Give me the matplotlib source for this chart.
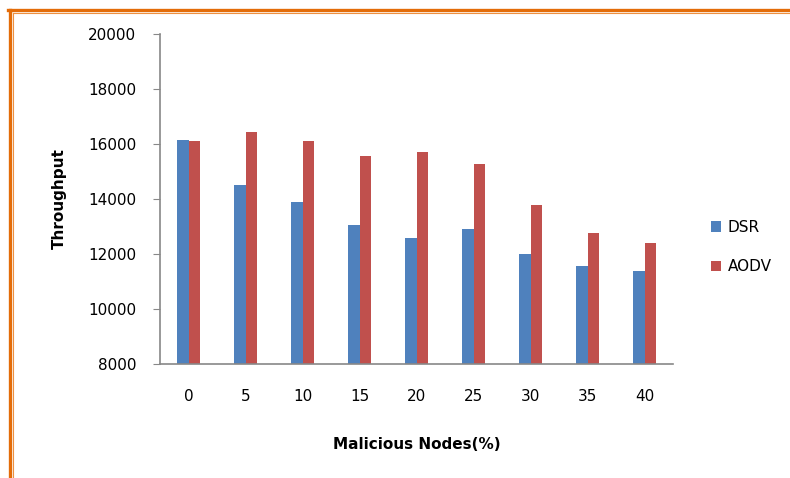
import matplotlib
matplotlib.use("Agg")
import matplotlib.pyplot as plt
import numpy as np
from matplotlib.lines import Line2D

# data
nodes = ['0', '5', '10', '15', '20', '25', '30', '35', '40']
dsr = [16150, 14500, 13900, 13070, 12600, 12900, 12000, 11580, 11400]
aodv = [16100, 16450, 16100, 15580, 15700, 15280, 13780, 12770, 12400]

blue = '#4F81BD'
red = '#C0504D'
orange = '#E36C09'

W, H = 790, 478
fig = plt.figure(figsize=(W / 100, H / 100), dpi=100)
ax = fig.add_axes([160 / W, 1 - 364 / H, (673 - 160) / W, (364 - 34) / H])

x = np.arange(len(nodes))
bw = 0.2
ax.bar(x - bw / 2, dsr, bw, color=blue, linewidth=0, label='DSR')
ax.bar(x + bw / 2, aodv, bw, color=red, linewidth=0, label='AODV')

ax.set_xlim(-0.5, len(nodes) - 0.5)
ax.set_ylim(8000, 20000)
ax.set_yticks(range(8000, 20001, 2000))
ax.set_xticks(x)
ax.set_xticklabels(nodes)

for s in ['top', 'right']:
    ax.spines[s].set_visible(False)
for s in ['left', 'bottom']:
    ax.spines[s].set_color('#888888')
    ax.spines[s].set_linewidth(1.2)
ax.tick_params(axis='y', direction='out', length=5, color='#888888', labelsize=11, pad=12)
ax.tick_params(axis='x', length=0, labelsize=11, pad=18)

ax.set_ylabel('Throughput', fontsize=11, fontweight='bold', labelpad=15)
ax.set_xlabel('Malicious Nodes(%)', fontsize=11, fontweight='bold', labelpad=24)

fig.legend(loc='center left', bbox_to_anchor=(697 / W, 1 - 247 / H), frameon=False,
           fontsize=11, handlelength=0.7, handleheight=0.7, handletextpad=0.4,
           labelspacing=1.6)

# orange frame around the figure (top and left edges)
def px_line(x0, y0, x1, y1, lw, c):
    fig.add_artist(Line2D([x0 / W, x1 / W], [1 - y0 / H, 1 - y1 / H],
                          color=c, linewidth=lw, transform=fig.transFigure))

px_line(9.5, 10, 9.5, H, 2.4, orange)
px_line(8, 10, W, 10, 2.4, orange)
px_line(13, 13, 13, H, 0.8, '#EE9040')
px_line(13, 13, W, 13, 0.8, '#EE9040')

fig.savefig('out.png', dpi=100)
